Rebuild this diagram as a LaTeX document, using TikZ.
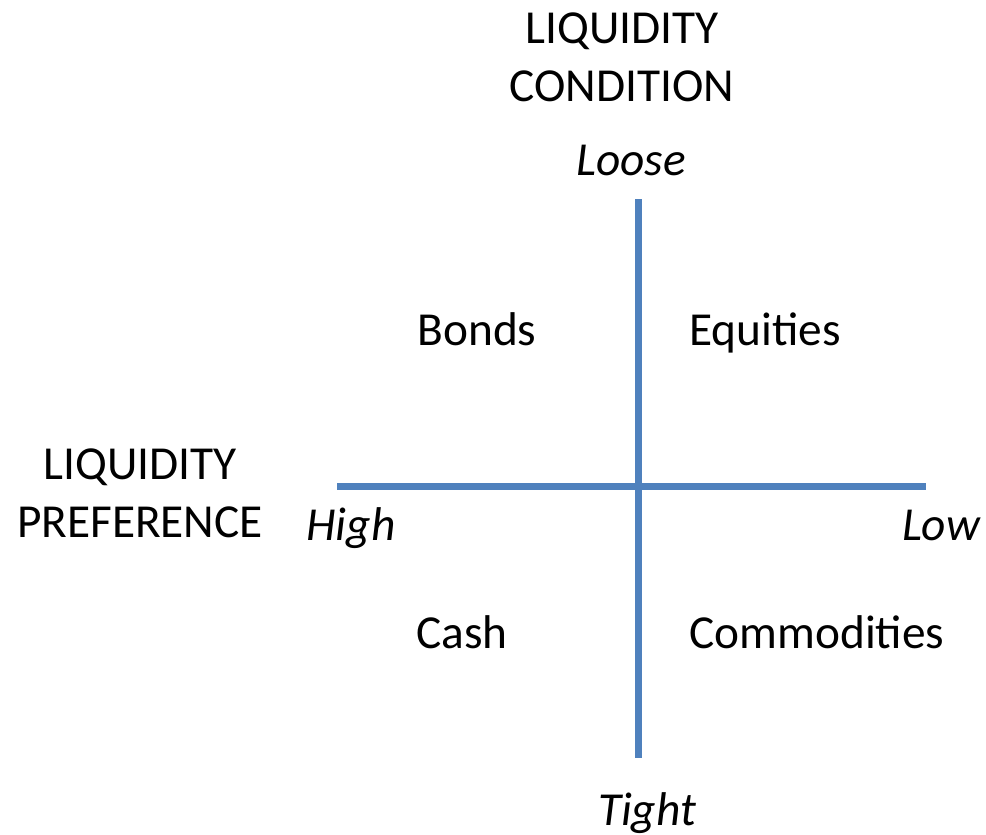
\documentclass[tikz,border=0pt]{standalone}
\usepackage{fontspec}
\setmainfont{Carlito}
\usepackage{xcolor}
\usepackage{tikz}
\usetikzlibrary{positioning}

\definecolor{axisblue}{RGB}{79,129,189}

\tikzset{
  axis line/.style={draw=axisblue, line width=5.25pt},
  quad label/.style={anchor=base, inner sep=0.75pt, font=\fontsize{35.5}{43.5}\selectfont},
  end label/.style={quad label, font=\fontsize{35.5}{43.5}\selectfont\itshape},
  axis title/.style={quad label, align=center}
}

\begin{document}
\begin{tikzpicture}[x=0.75pt,y=0.75pt,yscale=-1,xscale=1]
\path[use as bounding box] (0,0) rectangle (986,835);

%Axis end points
\coordinate (top) at (638,199);
\coordinate (bottom) at (638,758);
\coordinate (left) at (337,486);
\coordinate (right) at (926,486);

%Straight Lines
\draw [axis line]   (top) -- (bottom) ;
%Straight Lines
\draw [axis line]   (left) -- (right) ;

% Text Node (base sits on the last line)
\draw (622,101) node [axis title] (condition) {LIQUIDITY\\CONDITION};
% Text Node
\draw (140,537) node [axis title] (preference) {LIQUIDITY\\PREFERENCE};
% Text Node
\draw (631,175) node [end label] (loose) {Loose};
% Text Node
\draw (647,825) node [end label] (tight) {Tight};
% Text Node
\draw (351,540) node [end label] (high) {High};
% Text Node
\draw (941,540) node [end label] (low) {Low};
% Text Node
\draw (477,345) node [quad label] (bonds) {Bonds};
% Text Node
\draw (765,345) node [quad label] (equities) {Equities};
% Text Node
\draw (462,648) node [quad label] (cash) {Cash};
% Text Node
\draw (817,648) node [quad label] (commodities) {Commodities};
\end{tikzpicture}
\end{document}
